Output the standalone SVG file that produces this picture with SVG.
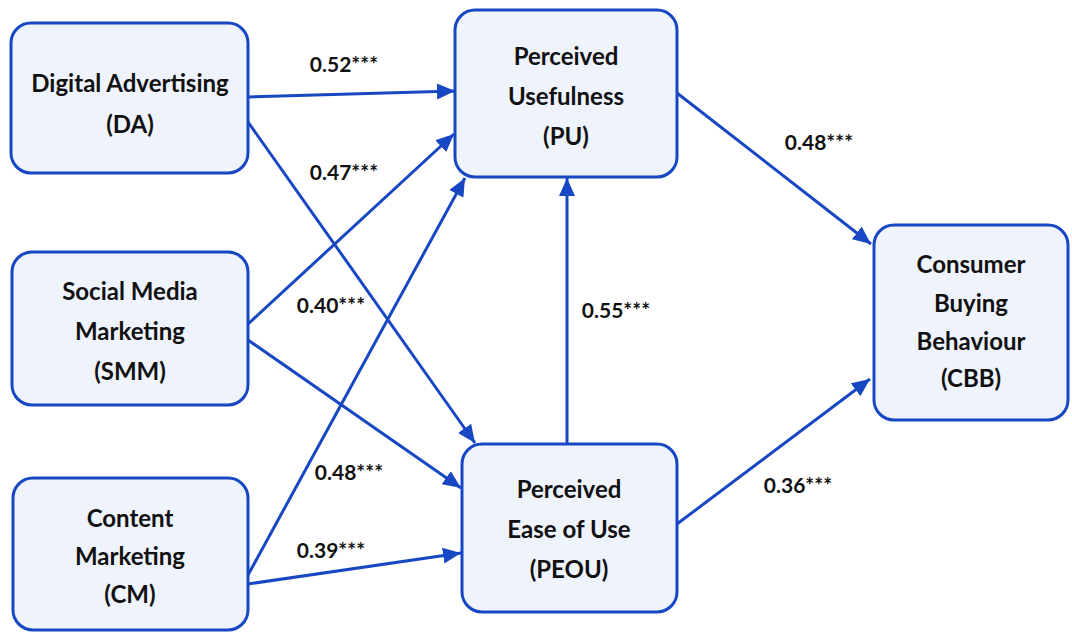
<svg xmlns="http://www.w3.org/2000/svg" width="1072" height="632" viewBox="0 0 1072 632">
<style>
.box{fill:#eef3fc;stroke:#1747c2;stroke-width:3}
.t{font-family:Lato,"Liberation Sans",sans-serif;font-weight:700;font-size:24px;fill:#111;text-anchor:middle}
.l{font-family:Lato,"Liberation Sans",sans-serif;font-weight:700;font-size:21px;fill:#111;text-anchor:middle}
.c{stroke:#1747c2;stroke-width:3;fill:none;marker-end:url(#ah)}
</style>
<defs>
<marker id="ah" markerUnits="userSpaceOnUse" markerWidth="20" markerHeight="16" refX="18" refY="8" orient="auto">
<path d="M0,0 L18,8 L0,16 Z" fill="#1747c2"/>
</marker>
</defs>
<rect width="1072" height="632" fill="#ffffff"/>
<g id="connectors">
<line class="c" x1="248" y1="97" x2="455" y2="91"/>
<line class="c" x1="248" y1="122" x2="475" y2="443"/>
<line class="c" x1="248" y1="324" x2="454" y2="134"/>
<line class="c" x1="248" y1="340" x2="461" y2="488"/>
<line class="c" x1="248" y1="575" x2="465" y2="178"/>
<line class="c" x1="248" y1="584" x2="461" y2="553"/>
<line class="c" x1="567" y1="444" x2="567" y2="178"/>
<line class="c" x1="677" y1="93" x2="871" y2="244"/>
<line class="c" x1="677" y1="524" x2="870" y2="379"/>
</g>
<g id="edge-labels">
<text class="l" x="344" y="72">0.52***</text>
<text class="l" x="344" y="180">0.47***</text>
<text class="l" x="331" y="313">0.40***</text>
<text class="l" x="349" y="480">0.48***</text>
<text class="l" x="331" y="558">0.39***</text>
<text class="l" x="819" y="150">0.48***</text>
<text class="l" x="616" y="318">0.55***</text>
<text class="l" x="798" y="493">0.36***</text>
</g>
<g id="DA">
<rect class="box" x="11" y="23" width="237" height="150" rx="20"/>
<text class="t" x="130" y="92">Digital Advertising</text>
<text class="t" x="130" y="133">(DA)</text>
</g>
<g id="SMM">
<rect class="box" x="12" y="252" width="236" height="153" rx="20"/>
<text class="t" x="130" y="300">Social Media</text>
<text class="t" x="130" y="340">Marketing</text>
<text class="t" x="130" y="380">(SMM)</text>
</g>
<g id="CM">
<rect class="box" x="13" y="478" width="235" height="152" rx="20"/>
<text class="t" x="130" y="527">Content</text>
<text class="t" x="130" y="565">Marketing</text>
<text class="t" x="130" y="603">(CM)</text>
</g>
<g id="PU">
<rect class="box" x="455" y="10" width="222" height="167" rx="20"/>
<text class="t" x="566" y="65">Perceived</text>
<text class="t" x="566" y="105">Usefulness</text>
<text class="t" x="566" y="145">(PU)</text>
</g>
<g id="PEOU">
<rect class="box" x="462" y="444" width="215" height="168" rx="20"/>
<text class="t" x="569" y="498">Perceived</text>
<text class="t" x="569" y="538">Ease of Use</text>
<text class="t" x="569" y="578">(PEOU)</text>
</g>
<g id="CBB">
<rect class="box" x="874" y="225" width="194" height="195" rx="20"/>
<text class="t" x="971" y="273">Consumer</text>
<text class="t" x="971" y="312">Buying</text>
<text class="t" x="971" y="350">Behaviour</text>
<text class="t" x="971" y="387">(CBB)</text>
</g>
</svg>
